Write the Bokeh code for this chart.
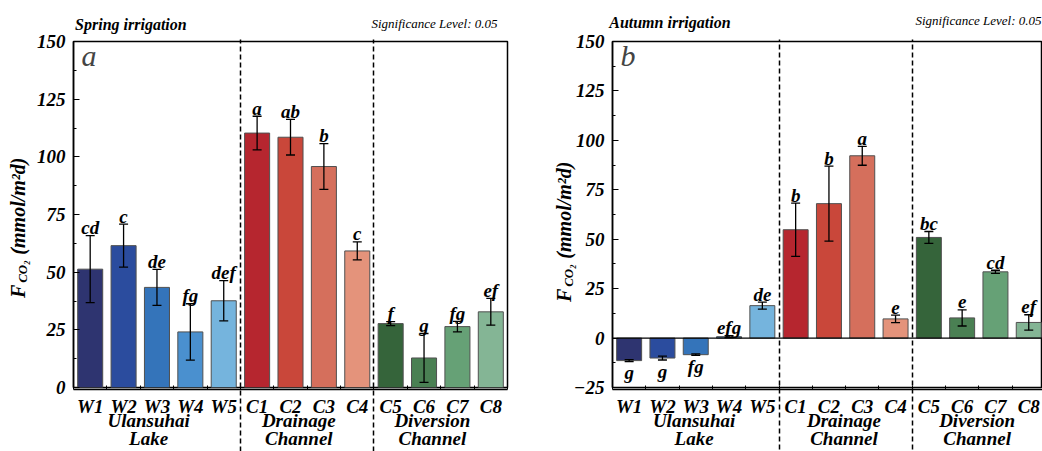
from bokeh.plotting import figure
from bokeh.models import (ColumnDataSource, Range1d, FixedTicker, Whisker, TeeHead,
                          Label, Span, LinearAxis)
from bokeh.layouts import row
from bokeh.embed import file_html
from bokeh.resources import INLINE
from bokeh.core.properties import value

# ---------------- data ----------------
sites = ["W1", "W2", "W3", "W4", "W5", "C1", "C2", "C3", "C4", "C5", "C6", "C7", "C8"]
group_line1 = ["Ulansuhai", "Drainage", "Diversion"]
group_line2 = ["Lake", "Channel", "Channel"]
group_sizes = [5, 4, 4]
colors = ["#2e3470", "#2b4c9e", "#3474ba", "#4a90cf", "#75b4dd",
          "#b6262f", "#c9473a", "#d56f5c", "#e4937b",
          "#35643a", "#4a8053", "#66a176", "#84b595"]

spring_flux = [51.3, 61.5, 43.4, 24.1, 37.6, 110.3, 108.5, 95.8, 59.2, 27.7, 12.8, 26.4, 32.8]
spring_err = [14.5, 9.3, 7.8, 12.2, 8.7, 7.3, 7.7, 9.9, 3.9, 0.9, 10.6, 2.3, 5.8]
spring_letters = ["cd", "c", "de", "fg", "def", "a", "ab", "b", "c", "f", "g", "fg", "ef"]

autumn_flux = [-11.4, -10.1, -8.4, 0.7, 16.4, 54.8, 68.0, 92.2, 9.7, 50.9, 10.2, 33.5, 7.9]
autumn_err = [0.5, 1.0, 0.4, 0.5, 1.8, 13.5, 19.0, 4.8, 1.9, 3.0, 4.1, 0.8, 3.9]
autumn_letters = ["g", "g", "fg", "efg", "de", "b", "b", "a", "e", "bc", "e", "cd", "ef"]

FONT = "Liberation Serif"
H = 451
SIG_TEXT = "Significance Level: 0.05"
YLAB_PIECES = [("F", 20, 0), ("CO₂", 13, 6), ("(mmol/m²d)", 20, 0)]

# approximate Times bold-italic advance widths (per em), used only to centre texts
CW = {"F": .667, "C": .667, "O": .722, "₂": .5, "m": .778, "o": .5, "l": .278,
      "/": .278, "(": .333, ")": .333, "d": .5, " ": .25, "²": .3}


def text_width(txt, size):
    return sum(CW.get(c, 0.5) for c in txt) * size


def text_axis(p, side, ticks, labels, size, style, standoff, orientation=None,
              tick_in=0, tick_out=0, dash=None):
    ax = LinearAxis(ticker=FixedTicker(ticks=list(ticks), minor_ticks=[]),
                    major_label_overrides=dict(zip(ticks, labels)),
                    axis_line_color=None, minor_tick_line_color=None,
                    major_tick_in=tick_in, major_tick_out=tick_out,
                    minor_tick_in=0, minor_tick_out=0,
                    major_label_standoff=standoff,
                    major_label_text_font=FONT,
                    major_label_text_font_style=style,
                    major_label_text_font_size=f"{size}px",
                    major_label_text_color="black")
    if dash is None:
        ax.major_tick_line_color = None
    else:
        ax.major_tick_line_color = "black"
        ax.major_tick_line_width = 1.5
        ax.major_tick_line_dash = dash
    if orientation is not None:
        ax.major_label_orientation = orientation
    p.add_layout(ax, side)
    return ax


def make_panel(flux, err, letters, title, panel_letter, fig_left, width,
               frame_left, frame_right, frame_top, frame_bottom, ymin, ymax, ystep,
               ylab_start_px, group_shift, title_standoff, sig_standoff,
               ylab_standoff, sub_standoff, xend):
    spacing = (frame_right - frame_left) / (xend - 0.5)
    yscale = (frame_bottom - frame_top) / (ymax - ymin)

    def dx(px):
        return 0.5 + (px - frame_left) / spacing

    def dy(py):
        return ymin + (frame_bottom - py) / yscale

    p = figure(width=width, height=H, x_range=Range1d(0.5, xend),
               y_range=Range1d(ymin, ymax), output_backend="svg",
               toolbar_location=None, x_axis_location=None, y_axis_location=None,
               min_border_left=frame_left - fig_left,
               min_border_right=fig_left + width - frame_right,
               min_border_top=frame_top, min_border_bottom=H - frame_bottom)
    p.background_fill_color = "white"
    p.border_fill_color = "white"
    p.outline_line_color = "black"
    p.outline_line_width = 1.5
    p.xgrid.visible = False
    p.ygrid.visible = False

    xs = list(range(1, len(sites) + 1))
    upper = [f + e for f, e in zip(flux, err)]
    lower = [f - e for f, e in zip(flux, err)]
    ly = [u if f >= 0 else l for f, u, l in zip(flux, upper, lower)]
    loff = [-8 if f >= 0 else 11 for f in flux]
    src = ColumnDataSource(dict(x=xs, top=flux, upper=upper, lower=lower,
                                color=colors, letter=letters, ly=ly, loff=loff))

    if ymin < 0:
        p.add_layout(Span(location=0, dimension="width", line_color="black",
                          line_width=1.3))

    p.vbar(x="x", top="top", bottom=0, width=0.75, fill_color="color",
           line_color="#505050", line_width=1, source=src)

    head = dict(size=9, line_width=1.3, line_color="black")
    p.add_layout(Whisker(base="x", upper="upper", lower="lower", source=src,
                         line_color="black", line_width=1.3, level="overlay",
                         upper_head=TeeHead(**head), lower_head=TeeHead(**head)))

    p.text(x="x", y="ly", text="letter", y_offset="loff", source=src,
           text_font=value(FONT), text_font_style="bold italic",
           text_font_size="19px", text_align="center", text_baseline="alphabetic",
           text_color="black")

    p.add_layout(Label(x=dx(frame_left + 8), y=dy(frame_top + 14), text=panel_letter,
                       text_font=FONT, text_font_style="italic", text_font_size="30px",
                       text_align="left", text_baseline="alphabetic"))

    # ---- below: dashed separators, site labels, group labels ----
    text_axis(p, "below", [5.5, 9.5], [" ", " "], 1, "normal", -(H - frame_bottom) - 2,
              tick_in=frame_bottom - frame_top, tick_out=H - frame_bottom, dash="5 3")

    xa = LinearAxis(ticker=FixedTicker(ticks=xs, minor_ticks=[i + 0.5 for i in range(0, 14)]),
                    major_label_overrides={i: s for i, s in zip(xs, sites)},
                    major_tick_in=0, major_tick_out=0, minor_tick_in=4, minor_tick_out=0,
                    axis_line_width=1.5, major_label_text_font=FONT,
                    major_label_text_font_style="bold italic",
                    major_label_text_font_size="19px", major_label_text_color="black",
                    major_label_standoff=6)
    p.add_layout(xa, "below")

    centers = []
    start = 1
    for n in group_sizes:
        centers.append(start + (n - 1) / 2.0 + group_shift)
        start += n
    text_axis(p, "below", centers, group_line1, 19, "bold italic", -10)
    text_axis(p, "below", centers, group_line2, 19, "bold italic", -6)

    # ---- left: y axis and composed axis title ----
    yticks = list(range(ymin, ymax + 1, ystep))
    ya = LinearAxis(ticker=FixedTicker(ticks=yticks,
                                       minor_ticks=[t + ystep / 2 for t in yticks[:-1]]),
                    major_tick_in=6, major_tick_out=0, minor_tick_in=3, minor_tick_out=0,
                    axis_line_width=1.5, major_label_text_font=FONT,
                    major_label_text_font_style="bold italic",
                    major_label_text_font_size="19px", major_label_text_color="black",
                    major_label_standoff=8)
    p.add_layout(ya, "left")

    main_ticks, main_labels, sub_ticks, sub_labels = [], [], [], []
    ycur = ylab_start_px
    for txt, size, shift in YLAB_PIECES:
        w = text_width(txt, size)
        c = dy(ycur - w / 2)
        if shift == 0:
            main_ticks.append(c)
            main_labels.append(txt)
        else:
            sub_ticks.append(c)
            sub_labels.append(txt)
        ycur -= w + (5 if shift else 1)
    text_axis(p, "left", main_ticks, main_labels, 20, "bold italic", ylab_standoff,
              orientation="parallel")
    text_axis(p, "left", sub_ticks, sub_labels, 13, "bold italic", sub_standoff,
              orientation="parallel")

    # ---- above: panel title and significance note ----
    tw = len(title) * 0.4 * 16
    text_axis(p, "above", [dx(frame_left + 3 + tw / 2)], [title], 16, "bold italic",
              title_standoff)
    sw = 126
    sig_right = 497 if fig_left == 0 else 1041
    text_axis(p, "above", [dx(sig_right - sw / 2)], [SIG_TEXT], 13, "italic",
              sig_standoff)
    return p


p1 = make_panel(spring_flux, spring_err, spring_letters, "Spring irrigation", "a",
                fig_left=0, width=520, frame_left=73, frame_right=507, frame_top=39,
                frame_bottom=387, ymin=0, ymax=150, ystep=25,
                ylab_start_px=297, group_shift=-0.25,
                title_standoff=9, sig_standoff=-18, ylab_standoff=4, sub_standoff=-26,
                xend=13.5)
p2 = make_panel(autumn_flux, autumn_err, autumn_letters, "Autumn irrigation", "b",
                fig_left=520, width=522, frame_left=612, frame_right=1042, frame_top=41,
                frame_bottom=389, ymin=-25, ymax=150, ystep=25,
                ylab_start_px=303, group_shift=-0.05,
                title_standoff=11, sig_standoff=-17, ylab_standoff=-5, sub_standoff=-26,
                xend=0.5 + 430 / 33.3)

layout = row(p1, p2, spacing=0)
open("out.html", "w").write(file_html(layout, INLINE))
